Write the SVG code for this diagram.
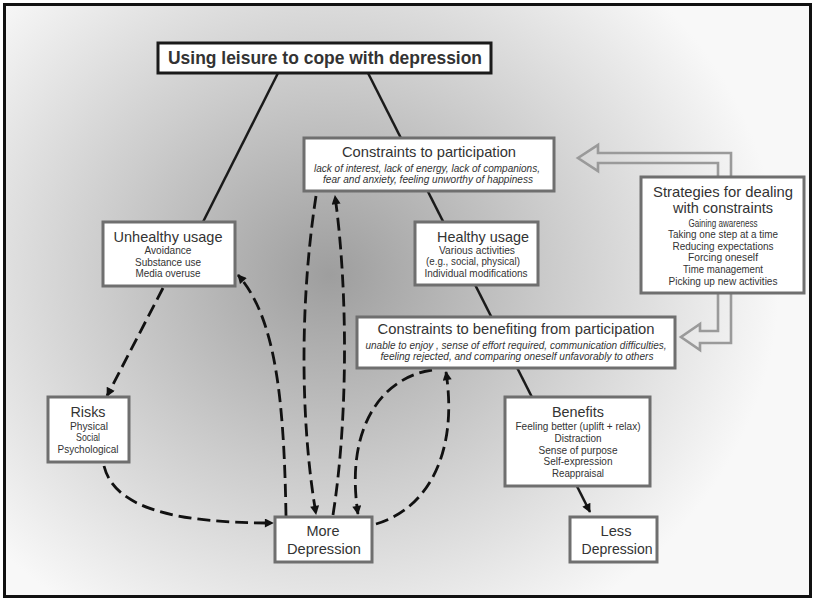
<svg xmlns="http://www.w3.org/2000/svg" width="814" height="599" viewBox="0 0 814 599">
<defs>
<radialGradient id="bg" gradientUnits="userSpaceOnUse" cx="330" cy="275" r="450" gradientTransform="translate(330 275) scale(1 0.9) translate(-330 -275)">
<stop offset="0" stop-color="#9e9e9e"/>
<stop offset="0.5" stop-color="#cccccc"/>
<stop offset="1" stop-color="#f8f8f8"/>
</radialGradient>
<marker id="ah" viewBox="0 0 10 10" refX="9" refY="5" markerWidth="10" markerHeight="9" markerUnits="userSpaceOnUse" orient="auto"><path d="M0,0 L10,5 L0,10 z" fill="#111"/></marker>
<style>
.box{fill:#fff;stroke:#6f6f6f;stroke-width:3}
.t{font-family:"Liberation Sans",Arial,sans-serif;fill:#333;text-anchor:middle}
.h{font-size:15px}
.s{font-size:10.5px}
.i{font-size:10px;font-style:italic}
.solid{fill:none;stroke:#1a1a1a;stroke-width:2.5}
.dash{fill:none;stroke:#111;stroke-width:2.8;stroke-dasharray:13 6}
.hollow{fill:none;stroke:#9a9a9a;stroke-width:2.6;stroke-linejoin:miter}
</style>
</defs>
<rect x="4.5" y="4.5" width="806" height="592" fill="url(#bg)" stroke="#111" stroke-width="3"/>
<g id="connectors">
<line class="solid" x1="278" y1="73" x2="203" y2="222"/>
<line class="solid" x1="368" y1="73" x2="590" y2="512" marker-end="url(#ah)"/>
<line class="dash" x1="163" y1="288" x2="107" y2="396" marker-end="url(#ah)"/>
<path class="dash" d="M104,466 C115,510 180,523 273,523" marker-end="url(#ah)"/>
<path class="dash" d="M286,516 C284,400 276,318 238,275" marker-end="url(#ah)"/>
<path class="dash" d="M316,196 C300,300 300,420 316,514" marker-end="url(#ah)"/>
<path class="dash" d="M333,515 C348,420 348,290 335,196" marker-end="url(#ah)"/>
<path class="dash" d="M432,370 C380,378 345,430 358,514" marker-end="url(#ah)"/>
<path class="dash" d="M376,524 C430,508 458,450 446,372" marker-end="url(#ah)"/>
<path class="hollow" d="M731,177 V153 H598 V145 L578,158 L598,171 V163 H718 V177"/>
<path class="hollow" d="M718,293 V331 H700 V324 L681,337 L700,350 V343 H731 V293"/>
</g>
<g id="title">
<rect x="158" y="43" width="333" height="30" fill="#fff" stroke="#1a1a1a" stroke-width="3"/>
<text class="t" x="325" y="64" font-size="17.5" font-weight="bold" fill="#222" textLength="314" lengthAdjust="spacingAndGlyphs">Using leisure to cope with depression</text>
</g>
<g id="constraints-participation">
<rect class="box" x="304" y="138" width="250" height="53"/>
<text class="t h" x="429" y="157" textLength="174" lengthAdjust="spacingAndGlyphs">Constraints to participation</text>
<text class="t i" x="427" y="172" textLength="226" lengthAdjust="spacingAndGlyphs">lack of interest, lack of energy, lack of companions,</text>
<text class="t i" x="428" y="183" textLength="210" lengthAdjust="spacingAndGlyphs">fear and anxiety, feeling unworthy of happiness</text>
</g>
<g id="strategies">
<rect class="box" x="641" y="177" width="163" height="116"/>
<text class="t h" x="723" y="197" textLength="140" lengthAdjust="spacingAndGlyphs">Strategies for dealing</text>
<text class="t h" x="723" y="213" textLength="100" lengthAdjust="spacingAndGlyphs">with constraints</text>
<text class="t s" x="723" y="227" textLength="69" lengthAdjust="spacingAndGlyphs">Gaining awareness</text>
<text class="t s" x="723" y="238" textLength="110" lengthAdjust="spacingAndGlyphs">Taking one step at a time</text>
<text class="t s" x="723" y="250" textLength="101" lengthAdjust="spacingAndGlyphs">Reducing expectations</text>
<text class="t s" x="723" y="261" textLength="70" lengthAdjust="spacingAndGlyphs">Forcing oneself</text>
<text class="t s" x="723" y="273" textLength="80" lengthAdjust="spacingAndGlyphs">Time management</text>
<text class="t s" x="723" y="285" textLength="109" lengthAdjust="spacingAndGlyphs">Picking up new activities</text>
</g>
<g id="unhealthy">
<rect class="box" x="103" y="222" width="132" height="64"/>
<text class="t h" x="168" y="242" textLength="109" lengthAdjust="spacingAndGlyphs">Unhealthy usage</text>
<text class="t s" x="168" y="254" textLength="47" lengthAdjust="spacingAndGlyphs">Avoidance</text>
<text class="t s" x="168" y="266" textLength="66" lengthAdjust="spacingAndGlyphs">Substance use</text>
<text class="t s" x="168" y="277" textLength="65" lengthAdjust="spacingAndGlyphs">Media overuse</text>
</g>
<g id="healthy">
<rect class="box" x="415" y="222" width="123" height="63"/>
<text class="t h" x="483" y="242" textLength="92" lengthAdjust="spacingAndGlyphs">Healthy usage</text>
<text class="t s" x="477" y="254" textLength="76" lengthAdjust="spacingAndGlyphs">Various activities</text>
<text class="t s" x="473" y="265" textLength="94" lengthAdjust="spacingAndGlyphs">(e.g., social, physical)</text>
<text class="t s" x="476" y="277" textLength="103" lengthAdjust="spacingAndGlyphs">Individual modifications</text>
</g>
<g id="constraints-benefiting">
<rect class="box" x="357" y="317" width="318" height="51"/>
<text class="t h" x="516" y="334" textLength="277" lengthAdjust="spacingAndGlyphs">Constraints to benefiting from participation</text>
<text class="t i" x="516" y="349" textLength="301" lengthAdjust="spacingAndGlyphs">unable to enjoy , sense of effort required, communication difficulties,</text>
<text class="t i" x="517" y="360" textLength="273" lengthAdjust="spacingAndGlyphs">feeling rejected, and comparing oneself unfavorably to others</text>
</g>
<g id="benefits">
<rect class="box" x="505" y="397" width="145" height="89"/>
<text class="t h" x="578" y="417" textLength="52" lengthAdjust="spacingAndGlyphs">Benefits</text>
<text class="t s" x="578" y="430" textLength="125" lengthAdjust="spacingAndGlyphs">Feeling better (uplift + relax)</text>
<text class="t s" x="578" y="442" textLength="47" lengthAdjust="spacingAndGlyphs">Distraction</text>
<text class="t s" x="578" y="454" textLength="79" lengthAdjust="spacingAndGlyphs">Sense of purpose</text>
<text class="t s" x="578" y="465" textLength="69" lengthAdjust="spacingAndGlyphs">Self-expression</text>
<text class="t s" x="578" y="477" textLength="52" lengthAdjust="spacingAndGlyphs">Reappraisal</text>
</g>
<g id="risks">
<rect class="box" x="48" y="397" width="81" height="65"/>
<text class="t h" x="88" y="417" textLength="35" lengthAdjust="spacingAndGlyphs">Risks</text>
<text class="t s" x="89" y="430" textLength="38" lengthAdjust="spacingAndGlyphs">Physical</text>
<text class="t s" x="88" y="441" textLength="24" lengthAdjust="spacingAndGlyphs">Social</text>
<text class="t s" x="88" y="453" textLength="61" lengthAdjust="spacingAndGlyphs">Psychological</text>
</g>
<g id="more-depression">
<rect class="box" x="275" y="517" width="97" height="45"/>
<text class="t h" x="323" y="536" textLength="33" lengthAdjust="spacingAndGlyphs">More</text>
<text class="t h" x="324" y="554" textLength="74" lengthAdjust="spacingAndGlyphs">Depression</text>
</g>
<g id="less-depression">
<rect class="box" x="570" y="517" width="87" height="45"/>
<text class="t h" x="616" y="536" textLength="31" lengthAdjust="spacingAndGlyphs">Less</text>
<text class="t h" x="617" y="554" textLength="71" lengthAdjust="spacingAndGlyphs">Depression</text>
</g>
</svg>
